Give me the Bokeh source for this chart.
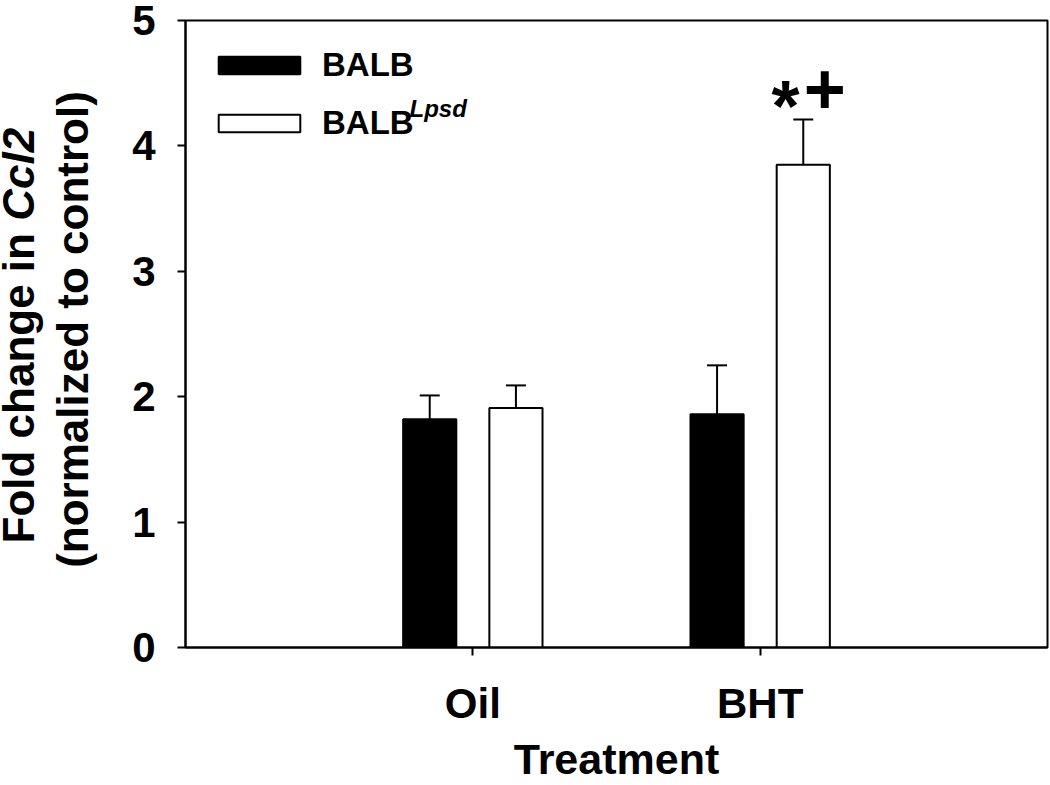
import math
from bokeh.plotting import figure
from bokeh.layouts import row
from bokeh.models import (ColumnDataSource, Range1d, FixedTicker, Whisker, TeeHead,
                          Label, Legend, LegendItem)
from bokeh.core.properties import value
from bokeh.embed import file_html
from bokeh.resources import INLINE

# ---- data ----
treatments = ["Oil", "BHT"]
balb_mean = [1.82, 1.86]
balb_sem = [0.19, 0.39]
lpsd_mean = [1.91, 3.85]
lpsd_sem = [0.18, 0.36]
series_labels = ["BALB", "BALB"]
superscript = "Lpsd"
sig_marks = ["", "*"]
sig_marks2 = ["", "+"]
x_title = "Treatment"
y_title_1a = "Fold change in "
y_title_1b = "Ccl2"
y_title_2 = "(normalized to control)"

FONT = "Liberation Sans"
H = 785
TOP, BOTTOM = 20, 138
pos = [i + 1 for i in range(len(treatments))]
off = 0.15
bw = 0.185

src_b = ColumnDataSource(dict(x=[p_ - off for p_ in pos], top=balb_mean,
                              upper=[m + s for m, s in zip(balb_mean, balb_sem)]))
src_l = ColumnDataSource(dict(x=[p_ + off for p_ in pos], top=lpsd_mean,
                              upper=[m + s for m, s in zip(lpsd_mean, lpsd_sem)]))

# ---- left strip holding the y-axis title (pixel coordinates, y up) ----
t = figure(width=110, height=H, output_backend="svg", toolbar_location=None,
           x_range=Range1d(0, 110), y_range=Range1d(BOTTOM, H - TOP),
           min_border_left=0, min_border_right=0,
           min_border_top=TOP, min_border_bottom=BOTTOM)
t.axis.visible = False
t.grid.visible = False
t.outline_line_color = None
t.background_fill_color = "white"
t.border_fill_color = "white"
ang = math.pi / 2
FS = 44
y0 = H - 543
t.text(x=[18], y=[y0], text=[y_title_1a], angle=ang, text_font=value(FONT),
       text_font_style="bold", text_font_size=f"{FS}px", text_align="left",
       text_baseline="alphabetic", text_color="black")
t.text(x=[18], y=[y0 + 7.335 * FS], text=[y_title_1b], angle=ang, text_font=value(FONT),
       text_font_style="bold italic", text_font_size=f"{FS}px", text_align="left",
       text_baseline="alphabetic", text_color="black")
t.text(x=[72], y=[H - 329], text=[y_title_2], angle=ang, text_font=value(FONT),
       text_font_style="bold", text_font_size=f"{FS}px", text_align="center",
       text_baseline="alphabetic", text_color="black")

# ---- main plot ----
p = figure(width=940, height=H, output_backend="svg", toolbar_location=None,
           x_range=Range1d(0, 3), y_range=Range1d(0, 5),
           min_border_left=75, min_border_right=3, min_border_top=TOP,
           min_border_bottom=BOTTOM)
p.background_fill_color = "white"
p.border_fill_color = "white"
p.outline_line_color = "black"
p.outline_line_width = 2
p.xgrid.visible = False
p.ygrid.visible = False

rb = p.vbar(x="x", top="top", width=bw, source=src_b, fill_color="black",
            line_color="black", line_width=2)
rl = p.vbar(x="x", top="top", width=bw, source=src_l, fill_color="white",
            line_color="black", line_width=2)

for src in (src_b, src_l):
    w = Whisker(source=src, base="x", lower="top", upper="upper", dimension="height",
                line_color="black", line_width=2,
                upper_head=TeeHead(size=20, line_color="black", line_width=2),
                lower_head=None)
    p.add_layout(w)

# significance marks above BHT BALB^Lpsd
for i, (m1, m2) in enumerate(zip(sig_marks, sig_marks2)):
    if m1:
        top = lpsd_mean[i] + lpsd_sem[i]
        p.text(x=[pos[i] + off - 0.062], y=[top + 0.11], text=[m1],
               text_font=value(FONT), text_font_style="bold", text_font_size="72px",
               text_align="center", text_baseline="alphabetic", text_color="black")
        p.text(x=[pos[i] + off + 0.075], y=[top + 0.24], text=[m2],
               text_font=value(FONT), text_font_style="bold", text_font_size="72px",
               text_align="center", text_baseline="alphabetic", text_color="black")

# axes
p.xaxis.ticker = FixedTicker(ticks=pos)
p.xaxis.major_label_overrides = {pp: t_ for pp, t_ in zip(pos, treatments)}
p.yaxis.ticker = FixedTicker(ticks=[0, 1, 2, 3, 4, 5])
for ax in (p.xaxis[0], p.yaxis[0]):
    ax.axis_line_width = 2
    ax.axis_line_color = "black"
    ax.major_tick_line_width = 2
    ax.major_tick_line_color = "black"
    ax.major_tick_out = 8
    ax.major_tick_in = 0
    ax.minor_tick_line_color = None
    ax.major_label_text_font = FONT
    ax.major_label_text_font_style = "bold"
    ax.major_label_text_font_size = "42px"
    ax.major_label_text_color = "black"
p.xaxis.major_label_standoff = 24
p.yaxis.major_label_standoff = 22
p.xaxis.axis_label = x_title
p.xaxis.axis_label_text_font = FONT
p.xaxis.axis_label_text_font_style = "bold"
p.xaxis.axis_label_text_font_size = "43px"
p.xaxis.axis_label_text_color = "black"
p.xaxis.axis_label_standoff = 5

# legend
legend = Legend(items=[LegendItem(label=series_labels[0], renderers=[rb]),
                       LegendItem(label=series_labels[1], renderers=[rl])],
                location=(23, 505), margin=0, padding=0, spacing=20,
                glyph_width=102, glyph_height=22, label_standoff=12,
                label_text_font=FONT, label_text_font_style="bold",
                label_text_font_size="33px", label_text_color="black",
                border_line_color=None, background_fill_alpha=0)
p.add_layout(legend)
p.add_layout(Label(x=224, y=539, x_units="screen", y_units="screen", text=superscript,
                   text_font=FONT, text_font_style="bold italic", text_font_size="24px",
                   text_align="left", text_baseline="alphabetic", text_color="black"))

layout = row(t, p, spacing=0)
open("out.html", "w").write(file_html(layout, INLINE))
